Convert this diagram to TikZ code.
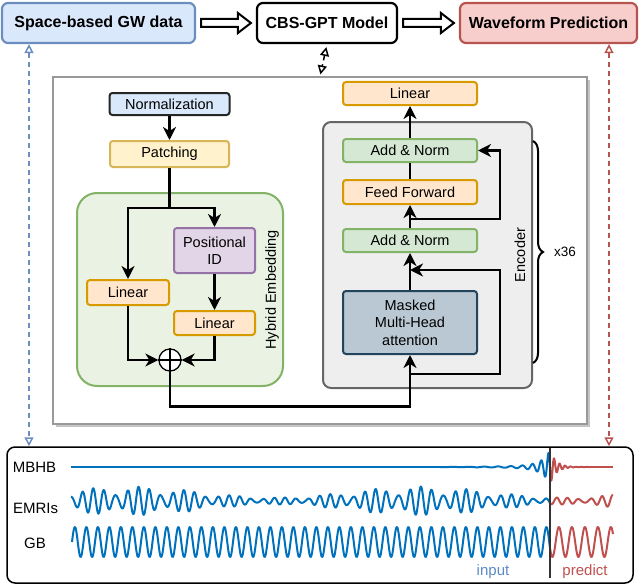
\documentclass[tikz,border=0pt]{standalone}
\usepackage{fontspec}
\setmainfont{Liberation Sans}
\usetikzlibrary{arrows.meta}
\usetikzlibrary{calc}
\usetikzlibrary{shadows}
\usetikzlibrary{decorations.pathreplacing}

\definecolor{gwfill}{HTML}{DAE8FC}
\definecolor{gwline}{HTML}{6C8EBF}
\definecolor{predfill}{HTML}{F8CECC}
\definecolor{predline}{HTML}{B85450}
\definecolor{orfill}{HTML}{FFE6CC}
\definecolor{orline}{HTML}{D79B00}
\definecolor{yefill}{HTML}{FFF2CC}
\definecolor{yeline}{HTML}{D6B656}
\definecolor{grfill}{HTML}{D5E8D4}
\definecolor{grline}{HTML}{82B366}
\definecolor{pufill}{HTML}{E1D5E7}
\definecolor{puline}{HTML}{9673A6}
\definecolor{mhfill}{HTML}{BAC8D3}
\definecolor{mhline}{HTML}{23445D}
\definecolor{hyfill}{HTML}{E9F2E3}
\definecolor{enfill}{HTML}{EEEEEE}
\definecolor{enline}{HTML}{666666}
\definecolor{wblue}{HTML}{0072BD}
\definecolor{wred}{HTML}{C0504D}
\definecolor{inblue}{HTML}{5B8BC6}

\begin{document}
\begin{tikzpicture}[x=1pt, y=-1pt,
    lbl/.style={font=\fontsize{14.5}{17.5}\selectfont},
    sig/.style={font=\fontsize{15}{18}\selectfont},
    title/.style={draw, rounded corners=6pt, line width=2.2pt, minimum height=40, inner sep=0pt,
      font=\bfseries\fontsize{16}{19}\selectfont},
    block/.style={draw, rounded corners=3pt, line width=2pt, minimum width=134, inner sep=0pt,
      align=center, lbl},
    flow/.style={-{Stealth[length=13pt,width=13pt,inset=4pt]}, line width=2.4pt},
    link/.style={dash pattern=on 5pt off 4pt, line width=1.5pt,
      {Triangle[open,length=9pt,width=9pt]}-{Triangle[open,length=9pt,width=9pt]}},
    wave/.style={line width=2pt, line join=round}]

      \useasboundingbox (0,0) rectangle (640,586);

      \node[title, fill=gwfill, draw=gwline, minimum width=193] (gw) at (98.5,23) {Space-based GW data};
      \node[title, fill=white, minimum width=140] (cbs) at (327,23) {CBS-GPT Model};
      \node[title, fill=predfill, draw=predline, minimum width=177] (pred) at (548.5,23) {Waveform Prediction};

      \foreach \a/\b in {gw/cbs, cbs/pred}
        \draw[line width=2pt, fill=white]
          ($(\a.east)+(5,-4)$) -- ($(\b.west)+(-18,-4)$) -- ($(\b.west)+(-18,-10)$) -- ($(\b.west)+(-5,0)$)
          -- ($(\b.west)+(-18,10)$) -- ($(\b.west)+(-18,4)$) -- ($(\a.east)+(5,4)$) -- cycle;

      \node[draw=black!40, fill=white, line width=1.2pt, minimum width=534, minimum height=347,
        drop shadow={shadow xshift=3pt, shadow yshift=-3pt, fill=black!45}] (body) at (320,250.5) {};
      \node[draw=grline, fill=hyfill, rounded corners=20pt, line width=2pt,
        minimum width=206, minimum height=193] (hybrid) at (180,289.5) {};
      \node[draw=enline, fill=enfill, rounded corners=8pt, line width=2pt,
        minimum width=209, minimum height=266] (enc) at (427.5,255) {};
      \node[lbl, rotate=90] (hylab) at (272,290) {Hybrid Embedding};
      \node[lbl, rotate=90] (enlab) at (520,255) {Encoder};

      \node[block, fill=gwfill, draw=black!85, minimum width=120, minimum height=22] (norm) at (169.5,104) {Normalization};
      \node[block, fill=yefill, draw=yeline, minimum width=119, minimum height=26] (patch) at (169.5,154) {Patching};
      \node[block, fill=pufill, draw=puline, minimum width=81, minimum height=45] (posid) at (214.5,250.5) {Positional\\ID};
      \node[block, fill=orfill, draw=orline, minimum width=82, minimum height=25] (linL) at (128,292.5) {Linear};
      \node[block, fill=orfill, draw=orline, minimum width=81, minimum height=24] (linR) at (214.5,323) {Linear};
      \node[circle, draw, line width=1.3pt, fill=white, minimum size=22, inner sep=0pt] (plus) at (170,360) {};
      \draw[line width=1.3pt] (plus.north) -- (plus.south) (plus.west) -- (plus.east);

      \node[block, fill=orfill, draw=orline, minimum height=23] (linTop) at (410,93.5) {Linear};
      \node[block, fill=grfill, draw=grline, minimum height=23] (addT) at (410,150.5) {Add \& Norm};
      \node[block, fill=orfill, draw=orline, minimum height=24] (ffwd) at (410,192) {Feed Forward};
      \node[block, fill=grfill, draw=grline, minimum height=23] (addB) at (410,240.5) {Add \& Norm};
      \node[block, fill=mhfill, draw=mhline, minimum height=63] (mha) at (410,322.5) {Masked\\Multi-Head\\attention};

      \draw[flow] (norm) -- (patch);
      \draw[flow] (patch.south) -- ++(0,40) -| (linL.north);
      \draw[flow] (patch.south) -- ++(0,40) -| (posid.north);
      \draw[flow] (posid) -- (linR);
      \draw[flow] (linL.south) |- (plus.west);
      \draw[flow] (linR.south) |- (plus.east);
      \draw[flow] (plus.south) -- ++(0,35) -| (mha.south);
      \draw[flow] (mha) -- (addB);
      \draw[flow] (addB) -- (ffwd);
      \draw[line width=2.4pt] (ffwd) -- (addT);
      \draw[flow] (addT) -- (linTop);

      \coordinate (resA) at (410,374);
      \coordinate (resAin) at (410,270);
      \coordinate (resB) at (410,219);
      \draw[flow] (resA) -- ++(90,0) |- (resAin);
      \draw[flow] (resB) -- ++(90,0) |- (addT.east);

      \draw[line width=2pt, decorate, decoration={brace, amplitude=10pt}] (533,141) -- (533,363)
        node[midway, right=20pt, inner sep=0pt, font=\fontsize{13.5}{16}\selectfont] (reps) {x36};

      \node[draw, rounded corners=8pt, line width=1.5pt, minimum width=626, minimum height=136] (signals) at (320,515) {};

      \coordinate (inx) at (29,0);
      \coordinate (outx) at (609,0);
      \draw[link, gwline] (gw.south -| inx) -- (signals.north -| inx);
      \draw[link, predline] (pred.south -| outx) -- (signals.north -| outx);
      \draw[link, black, shorten <=3pt, shorten >=2pt] (cbs.south) -- (body.north);

      \node[sig] (mbhb) at (34.5,467) {MBHB};
      \node[sig] (emri) at (35.5,508) {EMRIs};
      \node[sig] (gb) at (35,543) {GB};

      \draw[wblue, line width=1.2pt] (71,467) -- (440,467);
      \draw[wblue, wave] plot[domain=440:550, samples=441]
        (\x, {467 - (14*exp(-min(550-\x,70)/8) + 2.5*exp(-(550-\x)/35))*sin(232*(pow(558.2-\x,0.6)-3.534))});
      \draw[wred, wave] plot[domain=550:590, samples=161]
        (\x, {467 + 17*exp(-(\x-550)/6)*sin((\x-550)*65.45)});
      \draw[wred, line width=1.2pt] (590,467) -- (613,467);

      \draw[wblue, wave] plot[domain=71:550, samples=959]
        (\x, {501 - (9+5.5*cos((\x-130)*1.2414))*(0.7*sin(360*frac(\x/11.3)) + 0.3*sin(360*frac(\x/9.1)))});
      \draw[wred, wave] plot[domain=550:613, samples=127]
        (\x, {501 - (9+5.5*cos((\x-130)*1.2414))*(0.7*sin(360*frac(\x/11.3)) + 0.3*sin(360*frac(\x/9.1)))});

      \draw[wblue, wave] plot[domain=72:550, samples=957] (\x, {542 - 15*sin(360*frac((\x-72)/11.5))});
      \draw[wred, wave] plot[domain=550:613, samples=127] (\x, {542 - 15*sin(360*frac(41.5652 + (\x-550)/13))});

      \draw[black!80, line width=1.2pt] (550,448) -- (550,578);

      \node[sig, text=inblue] (inlab) at (493,572) {input};
      \node[sig, text=wred] (prlab) at (585,572) {predict};
    \end{tikzpicture}
\end{document}
